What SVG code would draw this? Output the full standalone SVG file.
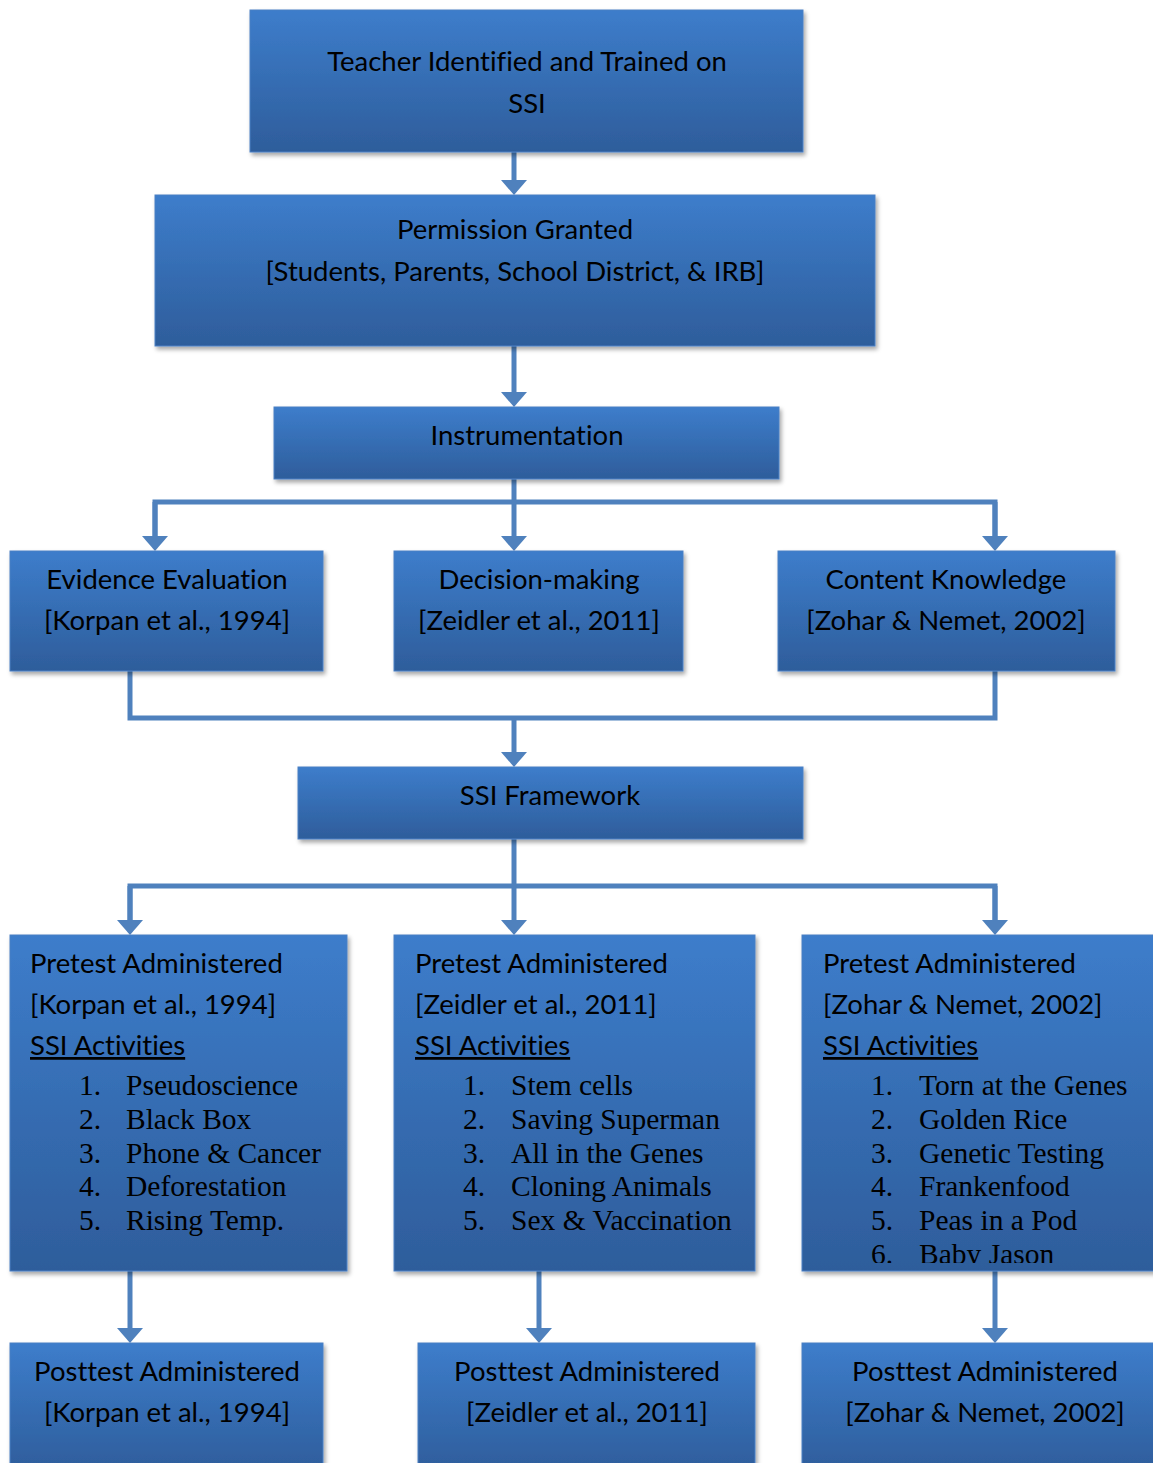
<svg xmlns="http://www.w3.org/2000/svg" width="1153" height="1463" viewBox="0 0 1153 1463">
<style>
.box{fill:url(#g);stroke:#4a80c4;stroke-width:1;filter:url(#sh)}
.t{font-family:Lato,"Open Sans",sans-serif;font-size:27.5px;fill:#000;font-variant-ligatures:none}
.c{text-anchor:middle}
.l{font-family:"Liberation Serif","Times New Roman",serif;font-size:29.5px;fill:#000}
.conn{fill:none;stroke:#4f81bd;stroke-width:5}
</style>
<defs>
<linearGradient id="g" x1="0" y1="0" x2="0" y2="1">
<stop offset="0" stop-color="#3d7dcb"/>
<stop offset="1" stop-color="#2e5d9b"/>
</linearGradient>
<filter id="sh" x="-5%" y="-5%" width="110%" height="115%">
<feDropShadow dx="2" dy="3" stdDeviation="2" flood-color="#000" flood-opacity="0.35"/>
</filter>
<marker id="a" markerUnits="userSpaceOnUse" markerWidth="16" markerHeight="26" refX="0" refY="13" orient="auto" viewBox="0 0 16 26">
<path d="M0,0 L15,13 L0,26 Z" fill="#4f81bd"/>
</marker>
<clipPath id="cp3"><rect x="802" y="935" width="351" height="328"/></clipPath>
</defs>

<g id="connectors">
<path class="conn" d="M514,152 V180" marker-end="url(#a)"/>
<path class="conn" d="M514,346 V392" marker-end="url(#a)"/>
<path class="conn" d="M514,479 V502"/>
<path class="conn" d="M155,536 V502 H995 V536"/>
<path class="conn" d="M155,502 V536" marker-end="url(#a)"/>
<path class="conn" d="M514,502 V536" marker-end="url(#a)"/>
<path class="conn" d="M995,502 V536" marker-end="url(#a)"/>
<path class="conn" d="M130,671 V718 H995 V671"/>
<path class="conn" d="M514,718 V752" marker-end="url(#a)"/>
<path class="conn" d="M514,839 V886"/>
<path class="conn" d="M130,920 V886 H995 V920"/>
<path class="conn" d="M130,886 V920" marker-end="url(#a)"/>
<path class="conn" d="M514,886 V920" marker-end="url(#a)"/>
<path class="conn" d="M995,886 V920" marker-end="url(#a)"/>
<path class="conn" d="M130,1271 V1328" marker-end="url(#a)"/>
<path class="conn" d="M539,1271 V1328" marker-end="url(#a)"/>
<path class="conn" d="M995,1271 V1328" marker-end="url(#a)"/>
</g>

<g id="teacher">
<rect class="box" x="250" y="10" width="553" height="142"/>
<text class="t c" x="527" y="71">Teacher Identified and Trained on</text>
<text class="t c" x="527" y="113">SSI</text>
</g>

<g id="permission">
<rect class="box" x="155" y="195" width="720" height="151"/>
<text class="t c" x="515" y="239">Permission Granted</text>
<text class="t c" x="515" y="281">[Students, Parents, School District, &amp; IRB]</text>
</g>

<g id="instrumentation">
<rect class="box" x="274" y="407" width="505" height="72"/>
<text class="t c" x="527" y="445">Instrumentation</text>
</g>

<g id="evidence">
<rect class="box" x="10" y="551" width="313" height="120"/>
<text class="t c" x="167" y="589">Evidence Evaluation</text>
<text class="t c" x="167" y="630">[Korpan et al., 1994]</text>
</g>

<g id="decision">
<rect class="box" x="394" y="551" width="289" height="120"/>
<text class="t c" x="539" y="589">Decision-making</text>
<text class="t c" x="539" y="630">[Zeidler et al., 2011]</text>
</g>

<g id="content">
<rect class="box" x="778" y="551" width="337" height="120"/>
<text class="t c" x="946" y="589">Content Knowledge</text>
<text class="t c" x="946" y="630">[Zohar &amp; Nemet, 2002]</text>
</g>

<g id="framework">
<rect class="box" x="298" y="767" width="505" height="72"/>
<text class="t c" x="550" y="805">SSI Framework</text>
</g>

<g id="pretest1">
<rect class="box" x="10" y="935" width="337" height="336"/>
<text class="t" x="30" y="973">Pretest Administered</text>
<text class="t" x="30" y="1014">[Korpan et al., 1994]</text>
<text class="t" x="30" y="1055" text-decoration="underline">SSI Activities</text>
<text class="l" x="79" y="1095">1.</text><text class="l" x="126" y="1095">Pseudoscience</text>
<text class="l" x="79" y="1129">2.</text><text class="l" x="126" y="1129">Black Box</text>
<text class="l" x="79" y="1163">3.</text><text class="l" x="126" y="1163">Phone &amp; Cancer</text>
<text class="l" x="79" y="1196">4.</text><text class="l" x="126" y="1196">Deforestation</text>
<text class="l" x="79" y="1230">5.</text><text class="l" x="126" y="1230">Rising Temp.</text>
</g>

<g id="pretest2">
<rect class="box" x="394" y="935" width="361" height="336"/>
<text class="t" x="415" y="973">Pretest Administered</text>
<text class="t" x="415" y="1014">[Zeidler et al., 2011]</text>
<text class="t" x="415" y="1055" text-decoration="underline">SSI Activities</text>
<text class="l" x="463" y="1095">1.</text><text class="l" x="511" y="1095">Stem cells</text>
<text class="l" x="463" y="1129">2.</text><text class="l" x="511" y="1129">Saving Superman</text>
<text class="l" x="463" y="1163">3.</text><text class="l" x="511" y="1163">All in the Genes</text>
<text class="l" x="463" y="1196">4.</text><text class="l" x="511" y="1196">Cloning Animals</text>
<text class="l" x="463" y="1230">5.</text><text class="l" x="511" y="1230">Sex &amp; Vaccination</text>
</g>

<g id="pretest3">
<rect class="box" x="802" y="935" width="360" height="336"/>
<g clip-path="url(#cp3)">
<text class="t" x="823" y="973">Pretest Administered</text>
<text class="t" x="823" y="1014">[Zohar &amp; Nemet, 2002]</text>
<text class="t" x="823" y="1055" text-decoration="underline">SSI Activities</text>
<text class="l" x="871" y="1095">1.</text><text class="l" x="919" y="1095">Torn at the Genes</text>
<text class="l" x="871" y="1129">2.</text><text class="l" x="919" y="1129">Golden Rice</text>
<text class="l" x="871" y="1163">3.</text><text class="l" x="919" y="1163">Genetic Testing</text>
<text class="l" x="871" y="1196">4.</text><text class="l" x="919" y="1196">Frankenfood</text>
<text class="l" x="871" y="1230">5.</text><text class="l" x="919" y="1230">Peas in a Pod</text>
<text class="l" x="871" y="1264">6.</text><text class="l" x="919" y="1264">Baby Jason</text>
</g>
</g>

<g id="posttest1">
<rect class="box" x="10" y="1343" width="313" height="130"/>
<text class="t c" x="167" y="1381">Posttest Administered</text>
<text class="t c" x="167" y="1422">[Korpan et al., 1994]</text>
</g>

<g id="posttest2">
<rect class="box" x="418" y="1343" width="337" height="130"/>
<text class="t c" x="587" y="1381">Posttest Administered</text>
<text class="t c" x="587" y="1422">[Zeidler et al., 2011]</text>
</g>

<g id="posttest3">
<rect class="box" x="802" y="1343" width="360" height="130"/>
<text class="t c" x="985" y="1381">Posttest Administered</text>
<text class="t c" x="985" y="1422">[Zohar &amp; Nemet, 2002]</text>
</g>
</svg>
